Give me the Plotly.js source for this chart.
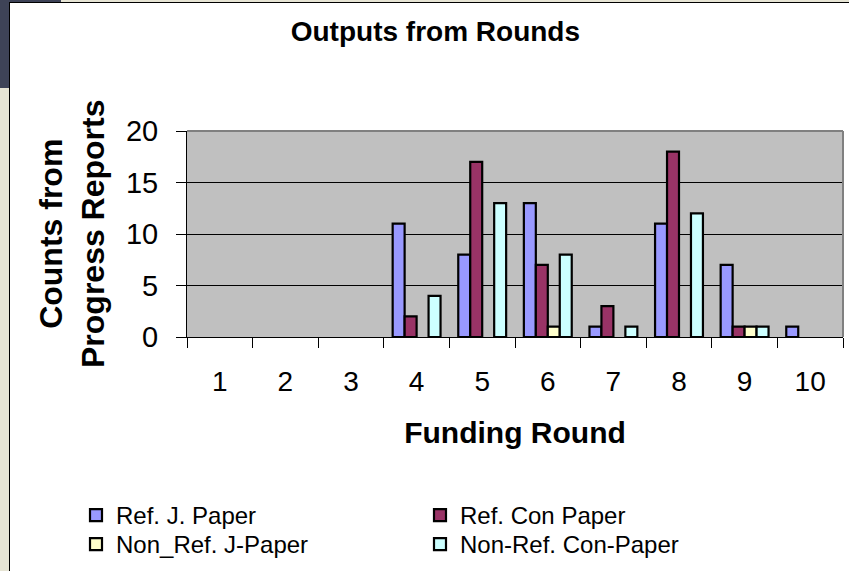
<!DOCTYPE html>
<html>
<head>
<meta charset="utf-8">
<script src="https://cdn.plot.ly/plotly-3.0.1.min.js"></script>
<style>
  html, body { margin: 0; padding: 0; width: 849px; height: 571px; overflow: hidden; background: #E6E4D4; }
  #corner { position: absolute; left: 0; top: 0; width: 61px; height: 88px; background: #3E4357; }
  #frame { position: absolute; left: 9px; top: 2px; width: 840px; height: 569px; border-left: 1px solid #000; border-top: 1px solid #000; box-sizing: border-box; background: #fff; }
  #chart { width: 839px; height: 568px; }
</style>
</head>
<body>
<div id="corner"></div>
<div id="frame"><div id="chart"></div></div>
<script>
const rounds = ['1','2','3','4','5','6','7','8','9','10'];
const refJPaper = [0,0,0,11,8,13,1,11,7,1];
const refConPaper = [0,0,0,2,17,7,3,18,1,0];
const nonRefJPaper = [0,0,0,0,0,1,0,0,1,0];
const nonRefConPaper = [0,0,0,4,13,8,1,12,1,0];
const seriesNames = ['Ref. J. Paper','Ref. Con Paper','Non_Ref. J-Paper','Non-Ref. Con-Paper'];
const seriesColors = ['#9999FF','#993366','#FFFFCC','#CCFFFF'];
const seriesValues = [refJPaper, refConPaper, nonRefJPaper, nonRefConPaper];
const yTitleText = 'Counts from<br>Progress Reports';
const xTitleText = 'Funding Round';
const chartTitleText = 'Outputs from Rounds';

const FONT = 'Liberation Sans, Arial, sans-serif';
const legendIds = ['legend','legend2','legend3','legend4'];

// zero counts draw no bar (as in the original chart), so they are passed as gaps
const traces = seriesValues.map((vals, i) => ({
  type: 'bar',
  name: seriesNames[i],
  x: rounds,
  y: vals.map(v => (v === 0 ? null : v)),
  legend: legendIds[i],
  marker: { color: seriesColors[i], line: { color: '#000', width: 2.2 } }
}));

// legend placement (container px in the chart div)
const legX = [66, 410, 66, 410];
const legTop = [490, 490, 519, 519];

const W = 839, H = 568;
const mL = 177, mR = 6, mT = 128, mB = 234;
const plotW = W - mL - mR;

const layout = {
  width: W, height: H,
  margin: { l: mL, r: mR, t: mT, b: mB, autoexpand: false },
  paper_bgcolor: '#FFFFFF',
  plot_bgcolor: '#C0C0C0',
  font: { family: FONT, color: '#000' },
  barmode: 'group',
  bargap: 0.27,
  bargroupgap: 0,
  title: {
    text: '<b>' + chartTitleText + '</b>',
    font: { size: 28, family: FONT, color: '#000' },
    x: 0.507, xref: 'container', xanchor: 'center',
    y: 1 - 28/568, yref: 'container', yanchor: 'middle'
  },
  xaxis: {
    type: 'category',
    categoryorder: 'array', categoryarray: rounds,
    tickson: 'boundaries',
    ticks: 'outside', ticklen: 10, tickcolor: '#000', tickwidth: 1,
    showline: true, linecolor: '#000', linewidth: 1,
    showgrid: false,
    tickangle: 0,
    tickfont: { size: 28, family: FONT },
    ticklabelstandoff: 19,
    title: { text: '<b>' + xTitleText + '</b>', font: { size: 30, family: FONT }, standoff: 26 }
  },
  yaxis: {
    range: [0, 20],
    tickvals: [0,5,10,15,20],
    ticks: 'outside', ticklen: 10, tickcolor: '#000', tickwidth: 1,
    showline: true, linecolor: '#000', linewidth: 1,
    showgrid: true, gridcolor: '#000', gridwidth: 1,
    zeroline: false,
    tickfont: { size: 29, family: FONT },
    ticklabelstandoff: 12
  },
  annotations: [
    {
      text: '<b>' + yTitleText + '</b>',
      xref: 'paper', yref: 'paper',
      x: (62 - mL) / plotW, y: 0.5,
      xanchor: 'center', yanchor: 'middle',
      textangle: -90, showarrow: false,
      font: { size: 32, family: FONT, color: '#000' }
    }
  ],
  shapes: [
    { type: 'line', xref: 'paper', yref: 'paper', x0: 0, x1: 1, y0: 1, y1: 1, line: { color: '#808080', width: 2 } },
    { type: 'line', xref: 'paper', yref: 'paper', x0: 1, x1: 1, y0: 0, y1: 1, line: { color: '#808080', width: 2 } }
  ],
  showlegend: true
};

legendIds.forEach((id, i) => {
  layout[id] = {
    orientation: 'v', xref: 'container', yref: 'container',
    x: legX[i]/W, xanchor: 'left', y: 1 - legTop[i]/H, yanchor: 'top',
    font: { size: 24, family: FONT }, bgcolor: 'rgba(0,0,0,0)', itemwidth: 30
  };
});

Plotly.newPlot('chart', traces, layout, { displayModeBar: false, staticPlot: true });
</script>
</body>
</html>
